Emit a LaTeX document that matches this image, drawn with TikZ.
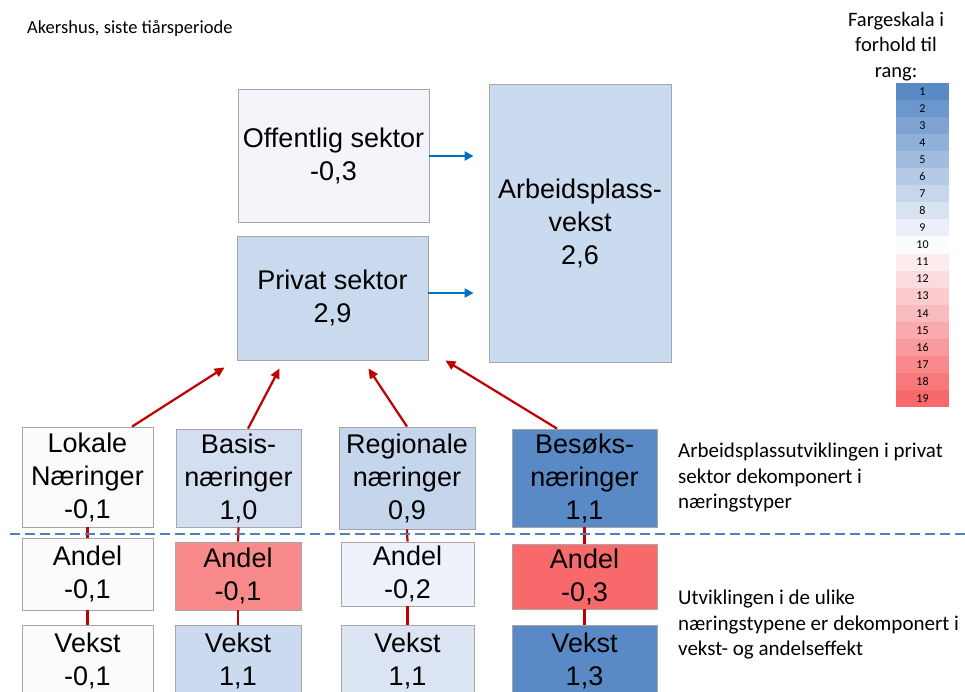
\documentclass[tikz,border=0pt]{standalone}
\usepackage{fontspec}
\setmainfont{Liberation Sans}
\newfontfamily\notefont{Carlito}
\usepackage{tikz}
\usetikzlibrary{arrows.meta,positioning}
\definecolor{sblue}{HTML}{5A8AC6}
\definecolor{swhite}{HTML}{FCFCFF}
\definecolor{sred}{HTML}{F8696B}
\definecolor{boxgray}{HTML}{A6A6A6}
\definecolor{arrblue}{HTML}{0070C0}
\definecolor{arrred}{HTML}{C00000}
\definecolor{dashblue}{HTML}{4F81BD}
\definecolor{offcol}{HTML}{F3F5FB}
\definecolor{privcol}{HTML}{C9D9EE}
\definecolor{arbcol}{HTML}{CADAEF}
\definecolor{nearwhite}{HTML}{FBFBFE}
\definecolor{basiscol}{HTML}{D3DFF1}
\definecolor{regcol}{HTML}{C5D6EC}
\definecolor{andelred}{HTML}{F88A8C}
\definecolor{andelreg}{HTML}{EDF1F9}
\definecolor{vekstbasis}{HTML}{CBDAEF}
\definecolor{vekstreg}{HTML}{DAE4F3}

\begin{document}
\begin{tikzpicture}[x=1pt,y=-1pt,
    box/.style={draw=boxgray,line width=0.8pt,align=center,inner sep=0pt,
      font=\fontsize{27}{33}\selectfont},
    cell/.style={inner sep=0pt,minimum width=53pt,minimum height=17.05pt,
      font=\notefont\fontsize{12}{13}\selectfont},
    note/.style={anchor=north west,align=left,inner sep=0pt,
      font=\notefont\fontsize{21}{25.5}\selectfont},
    blarrow/.style={draw=arrblue,line width=2.2pt,-{Triangle[length=9pt,width=9pt]}},
    rdarrow/.style={draw=arrred,line width=2.2pt,-{Triangle[length=10pt,width=9pt]}},
    rdline/.style={draw=arrred,line width=2.2pt}]
      \useasboundingbox (0,0) rectangle (965,691);
      \clip (0,0) rectangle (965,691);

      \node[anchor=base west,inner sep=0pt,font=\notefont\fontsize{18.5}{22}\selectfont]
        (title) at (27,33) {Akershus, siste tiårsperiode};

      \node[box,fill=offcol,minimum width=191pt,minimum height=133pt]
        (offentlig) at (333.5,156) {Offentlig sektor\\-0,3};
      \node[box,fill=privcol,minimum width=191pt,minimum height=124pt]
        (privat) at (332.5,298) {Privat sektor\\2,9};
      \node[box,fill=arbcol,minimum width=182pt,minimum height=278pt]
        (arbeid) at (580,223) {Arbeidsplass-\\vekst\\2,6};

      \node[box,fill=nearwhite,minimum width=131pt,minimum height=100pt]
        (lokale) at (87.5,477) {Lokale\\Næringer\\-0,1};
      \node[box,fill=basiscol,minimum width=125pt,minimum height=98pt]
        (basis) at (238.5,478) {Basis-\\næringer\\1,0};
      \node[box,fill=regcol,minimum width=136pt,minimum height=102pt]
        (regional) at (407,478) {Regionale\\næringer\\0,9};
      \node[box,fill=sblue,minimum width=145pt,minimum height=98pt]
        (besok) at (584.5,478) {Besøks-\\næringer\\1,1};

      \node[box,fill=nearwhite,minimum width=131pt,minimum height=72pt]
        (lokaleandel) at (87.5,574) {Andel\\-0,1};
      \node[box,fill=andelred,minimum width=126pt,minimum height=68pt]
        (basisandel) at (238,576) {Andel\\-0,1};
      \node[box,fill=andelreg,minimum width=133pt,minimum height=64pt]
        (regionalandel) at (407.5,574) {Andel\\-0,2};
      \node[box,fill=sred,minimum width=145pt,minimum height=65pt]
        (besokandel) at (584.5,576.5) {Andel\\-0,3};

      \node[box,fill=nearwhite,minimum width=131pt,minimum height=72pt]
        (lokalevekst) at (87.5,661) {Vekst\\-0,1};
      \node[box,fill=vekstbasis,minimum width=126pt,minimum height=72pt]
        (basisvekst) at (238,661) {Vekst\\1,1};
      \node[box,fill=vekstreg,minimum width=133pt,minimum height=72pt]
        (regionalvekst) at (407.5,661) {Vekst\\1,1};
      \node[box,fill=sblue,minimum width=145pt,minimum height=72pt]
        (besokvekst) at (584.5,661) {Vekst\\1,3};

      \draw[blarrow] (offentlig.east) -- ([xshift=-15pt]arbeid.west |- offentlig.east);
      \draw[blarrow] ([yshift=5pt]privat.east) -- ([xshift=-15pt,yshift=5pt]arbeid.west |- privat.east);

      \draw[rdarrow] ([xshift=44.5pt]lokale.north) -- ([xshift=-12pt,yshift=-7pt]privat.south west);
      \draw[rdarrow] ([xshift=9.5pt]basis.north) -- ([xshift=43pt,yshift=-8pt]privat.south west);
      \draw[rdarrow] (regional.north) -- ([xshift=-60pt,yshift=-8pt]privat.south east);
      \draw[rdarrow] ([xshift=-27.5pt]besok.north) -- ([xshift=17pt]privat.south east);

      \foreach \top/\mid/\bot in {lokale/lokaleandel/lokalevekst,basis/basisandel/basisvekst,
          regional/regionalandel/regionalvekst,besok/besokandel/besokvekst} {
        \draw[rdline] (\top.south) -- (\mid.north);
        \draw[rdline] (\mid.south) -- (\bot.north);
      }

      \coordinate (dashleft) at (10,534);
      \coordinate (dashright) at (965,534);
      \draw[dashblue,line width=2.5pt,dash pattern=on 10pt off 5pt] (dashleft) -- (dashright);

      \node[note] (privnote) at (678,443) {Arbeidsplassutviklingen i privat\\sektor dekomponert i\\næringstyper};
      \node[note] (typenote) at (678,590) {Utviklingen i de ulike\\næringstypene er dekomponert i\\vekst- og andelseffekt};

      \node[anchor=north,align=center,inner sep=0pt,font=\notefont\fontsize{20.5}{25.5}\selectfont]
        (scaletitle) at (896,12) {Fargeskala i\\forhold til\\rang:};
      \foreach \i in {1,...,19} {
        \ifnum\i<11
          \pgfmathtruncatemacro\p{round((10-\i)*100/9)}
          \colorlet{rankcol}{sblue!\p!swhite}
        \else
          \pgfmathtruncatemacro\p{round((\i-10)*100/9)}
          \colorlet{rankcol}{sred!\p!swhite}
        \fi
        \node[cell,fill=rankcol] (rank\i) at (922.5,{83+(\i-0.5)*17.05}) {\i};
      }
    \end{tikzpicture}
\end{document}
